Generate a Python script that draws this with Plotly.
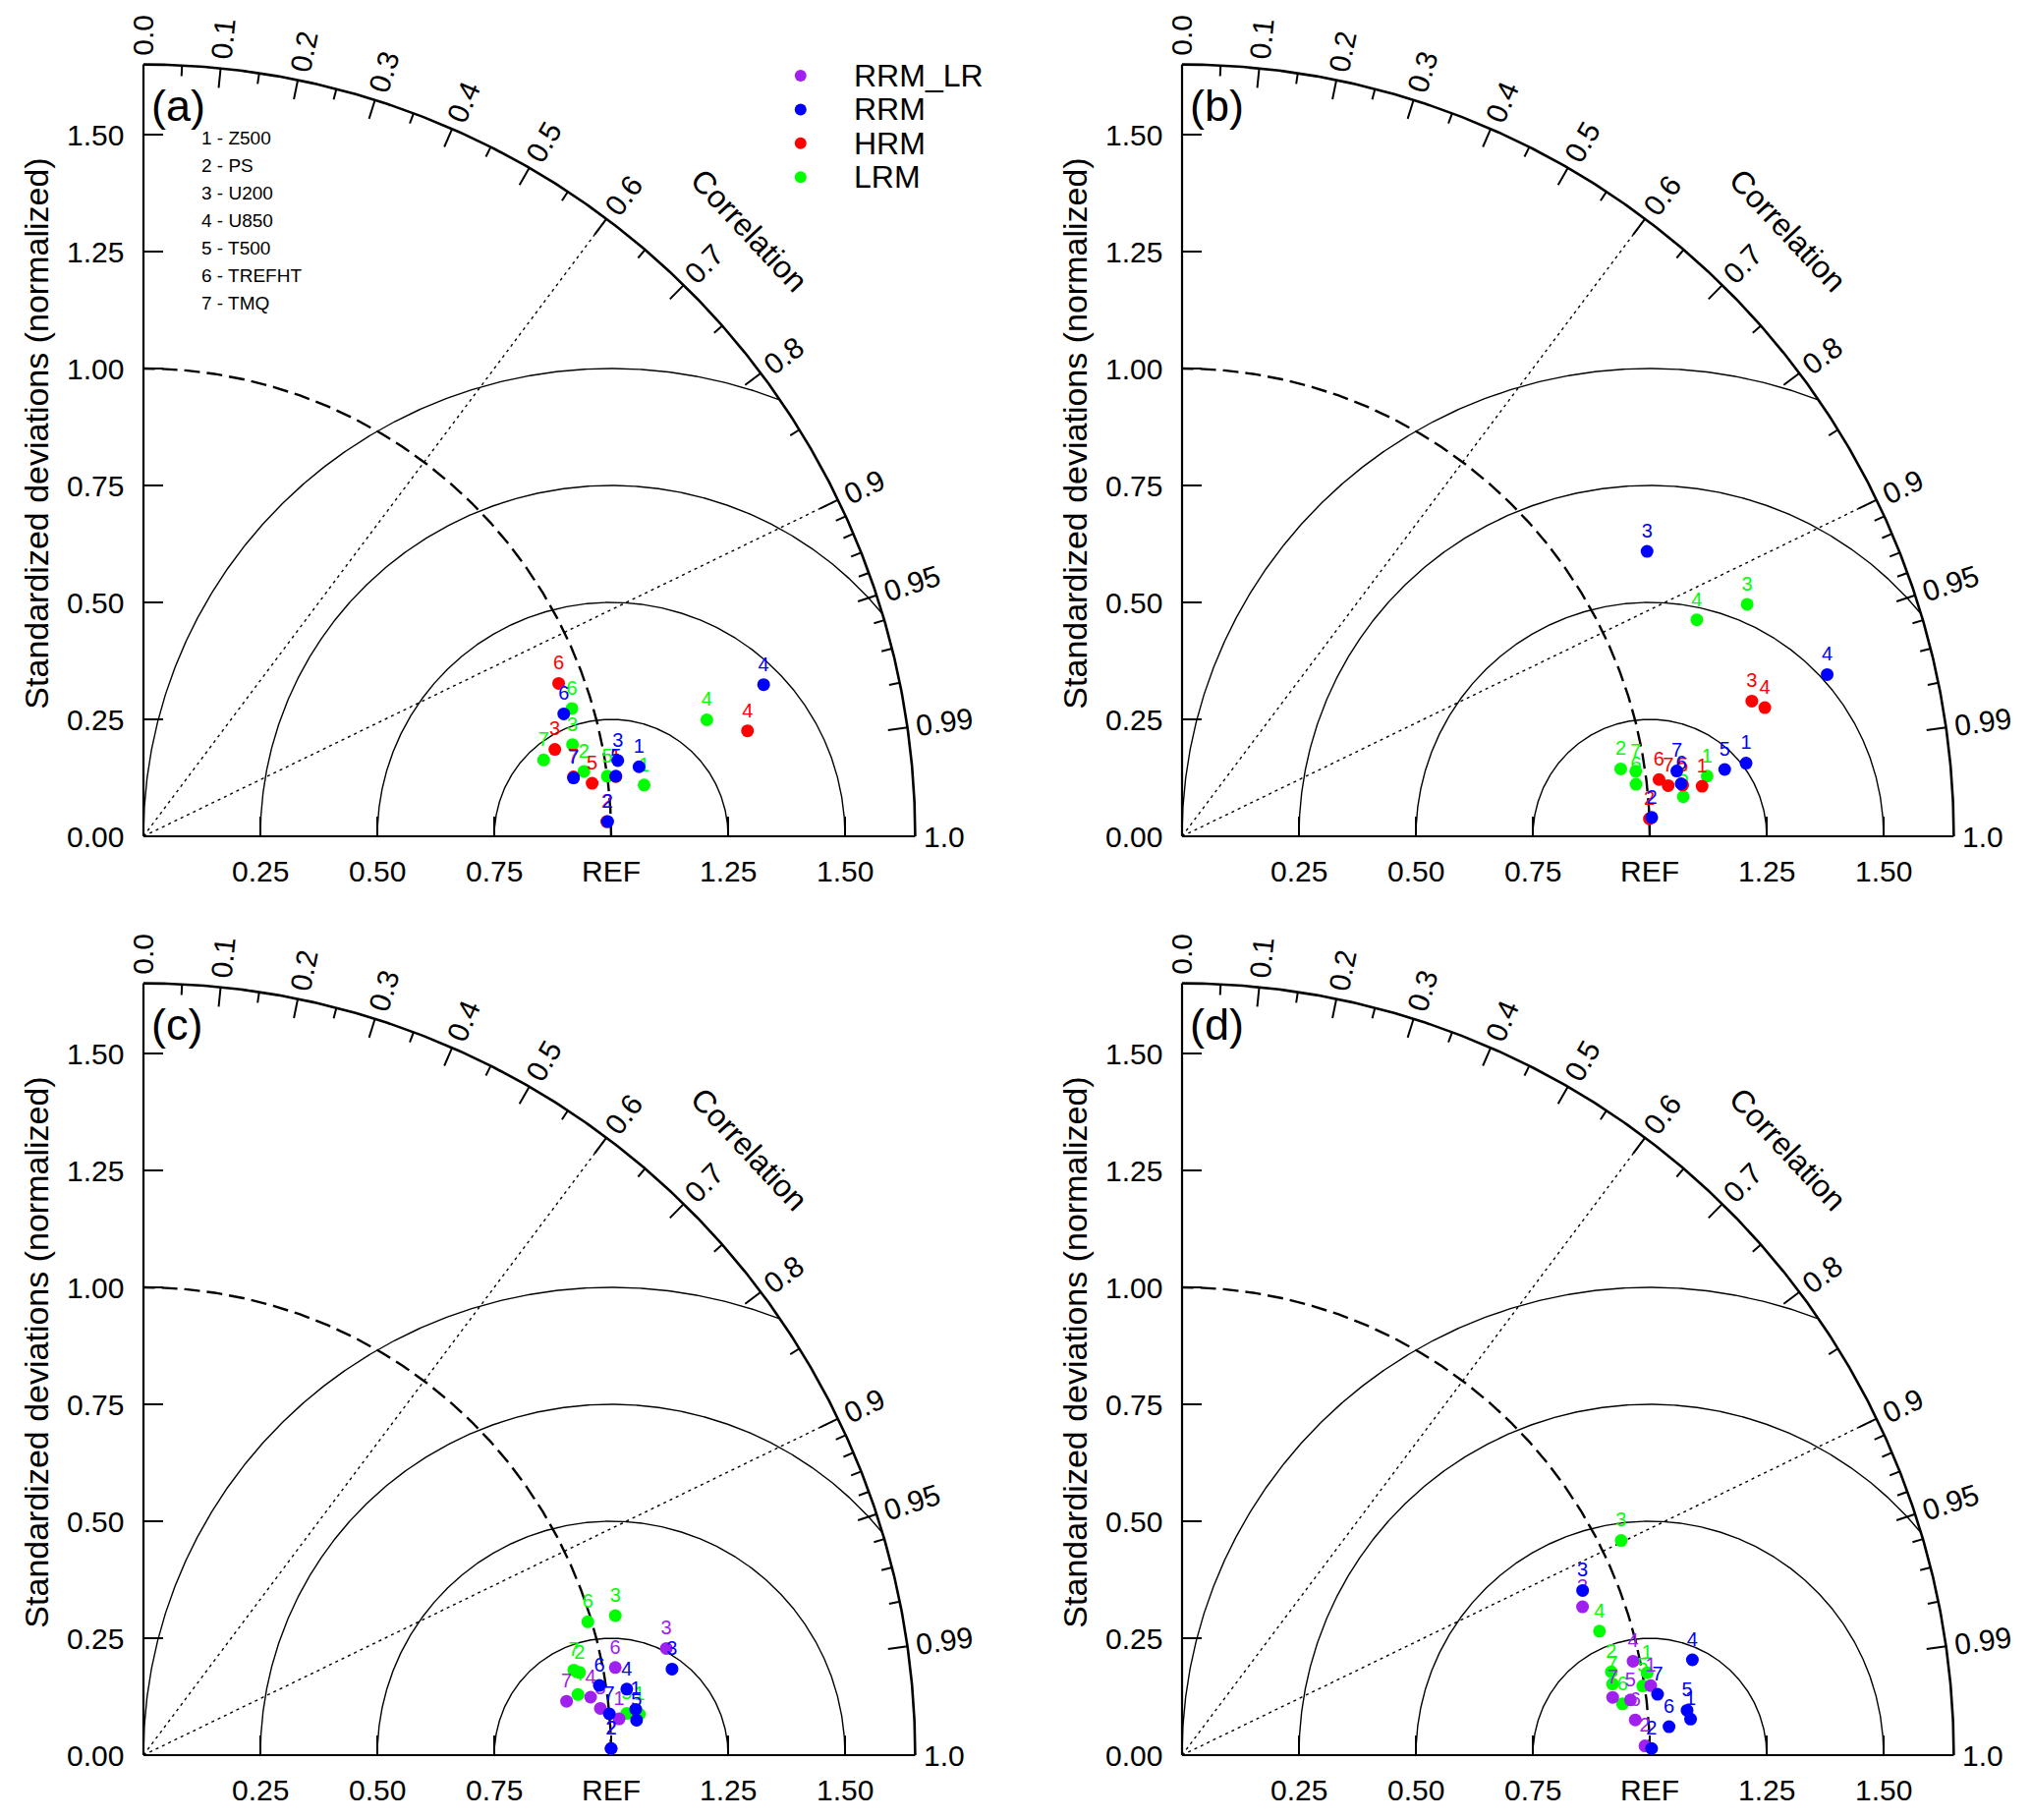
import numpy as np
import plotly.graph_objects as go

# ---- data: normalized standard deviation and correlation, variables 1..7 ----
variables = ["Z500", "PS", "U200", "U850", "T500", "TREFHT", "TMQ"]
panel_names = ["(a)", "(b)", "(c)", "(d)"]
models = ["RRM_LR", "RRM", "HRM", "LRM"]
colors = {"RRM_LR": "#A020F0", "RRM": "#0000FF", "HRM": "#FF0000", "LRM": "#00FF00"}

a_rrm_std = [1.070, 0.993, 1.027, 1.365, 1.018, 0.936, 0.928]
a_rrm_cor = [0.9903, 0.9995, 0.9875, 0.9714, 0.9920, 0.9601, 0.9909]
a_hrm_std = [1.018, 0.991, 0.899, 1.311, 0.966, 0.946, 0.928]
a_hrm_cor = [0.9921, 0.9995, 0.9784, 0.9851, 0.9931, 0.9384, 0.9906]
a_lrm_std = [1.076, 0.952, 0.938, 1.230, 1.000, 0.956, 0.871]
a_lrm_cor = [0.9948, 0.9893, 0.9779, 0.9793, 0.9917, 0.9583, 0.9823]

b_rrm_std = [1.216, 1.005, 1.166, 1.422, 1.169, 1.073, 1.067]
b_rrm_cor = [0.9917, 0.9992, 0.8527, 0.9700, 0.9925, 0.9945, 0.9914]
b_hrm_std = [1.117, 1.000, 1.252, 1.276, 1.076, 1.027, 1.045]
b_hrm_cor = [0.9954, 0.9993, 0.9730, 0.9765, 0.9948, 0.9930, 0.9946]
b_lrm_std = [1.130, 0.949, 1.306, 1.194, 1.075, 0.977, 0.980]
b_lrm_cor = [0.9935, 0.9884, 0.9251, 0.9218, 0.9969, 0.9935, 0.9899]

c_rrmlr_std = [1.020, 1.000, 1.141, 0.964, 0.982, 1.026, 0.912]
c_rrmlr_cor = [0.9971, 0.9999, 0.9798, 0.9917, 0.9948, 0.9832, 0.9920]
c_rrm_std = [1.057, 1.000, 1.145, 1.043, 1.057, 0.986, 1.000]
c_rrm_cor = [0.9957, 0.9999, 0.9870, 0.9908, 0.9975, 0.9885, 0.9961]
c_lrm_std = [1.064, 0.949, 1.052, 0.938, 1.037, 0.992, 0.938]
c_lrm_cor = [0.9966, 0.9825, 0.9590, 0.9904, 0.9963, 0.9578, 0.9810]

d_rrmlr_std = [1.013, 0.990, 0.913, 0.985, 0.966, 0.972, 0.929]
d_rrmlr_cor = [0.9892, 0.9998, 0.9378, 0.9790, 0.9925, 0.9970, 0.9911]
d_rrm_std = [1.090, 1.004, 0.926, 1.110, 1.084, 1.043, 1.025]
d_rrm_cor = [0.9975, 0.9999, 0.9249, 0.9830, 0.9961, 0.9983, 0.9919]
d_lrm_std = [1.010, 0.935, 1.045, 0.931, 0.996, 0.948, 0.933]
d_lrm_cor = [0.9847, 0.9817, 0.8984, 0.9586, 0.9889, 0.9933, 0.9866]

panel_data = [
    {"LRM": (a_lrm_std, a_lrm_cor), "HRM": (a_hrm_std, a_hrm_cor), "RRM": (a_rrm_std, a_rrm_cor)},
    {"LRM": (b_lrm_std, b_lrm_cor), "HRM": (b_hrm_std, b_hrm_cor), "RRM": (b_rrm_std, b_rrm_cor)},
    {"LRM": (c_lrm_std, c_lrm_cor), "RRM_LR": (c_rrmlr_std, c_rrmlr_cor), "RRM": (c_rrm_std, c_rrm_cor)},
    {"LRM": (d_lrm_std, d_lrm_cor), "RRM_LR": (d_rrmlr_std, d_rrmlr_cor), "RRM": (d_rrm_std, d_rrm_cor)},
]
draw_order = ["LRM", "HRM", "RRM_LR", "RRM"]

sd_ticks = [0.25, 0.50, 0.75, 1.00, 1.25, 1.50]
sd_labels = ["0.25", "0.50", "0.75", "REF", "1.25", "1.50"]
y_ticks = [0.0, 0.25, 0.50, 0.75, 1.00, 1.25, 1.50]
cor_major = [0.0, 0.1, 0.2, 0.3, 0.4, 0.5, 0.6, 0.7, 0.8, 0.9, 0.95, 0.99, 1.0]
cor_minor = [0.05, 0.15, 0.25, 0.35, 0.45, 0.55, 0.65, 0.75, 0.85,
             0.91, 0.92, 0.93, 0.94, 0.96, 0.97, 0.98]
rms_radii = [0.25, 0.5, 0.75, 1.0]

# ---- layout geometry (page body has an 8px margin) ----
W, H = 2051, 1836
PX = 476.0          # pixels per unit
RMAX = 1.65
FONT = "Liberation Sans, Arial, sans-serif"
ox = [138, 1195]    # origin x of left / right column (figure px)
oy = [843, 1778]    # origin y of top / bottom row (figure px)
LEFT, RIGHT, TOP, BOT = 138, 854, 843, 58
xr = [-LEFT / PX, RIGHT / PX]
yr = [-BOT / PX, TOP / PX]
xdoms, ydoms = [], []
for row in range(2):
    for col in range(2):
        xdoms.append([(ox[col] - LEFT) / W, (ox[col] + RIGHT) / W])
        ydoms.append([1 - (oy[row] + BOT) / H, 1 - (oy[row] - TOP) / H])

fig = go.Figure()
annotations = []


def line(xs, ys, ax, width=1.3, dash="solid", color="black"):
    fig.add_trace(go.Scatter(x=xs, y=ys, mode="lines", xaxis=ax[0], yaxis=ax[1],
                             line=dict(color=color, width=width, dash=dash),
                             hoverinfo="skip", showlegend=False))


def segs(pairs):
    xs, ys = [], []
    for (x0, y0, x1, y1) in pairs:
        xs += [x0, x1, None]
        ys += [y0, y1, None]
    return xs, ys


for p in range(4):
    ax = ("x" if p == 0 else f"x{p+1}", "y" if p == 0 else f"y{p+1}")
    xref, yref = ax

    # RMS arcs centred on REF
    phi = np.linspace(0, np.pi, 721)
    for rr in rms_radii:
        xs = 1 + rr * np.cos(phi)
        ys = rr * np.sin(phi)
        keep = np.hypot(xs, ys) <= RMAX + 1e-9
        line(xs[keep], ys[keep], ax, width=1.4)

    # dashed reference std arc
    th = np.linspace(0, np.pi / 2, 300)
    line(np.cos(th), np.sin(th), ax, width=2.4, dash="16px,7px")

    # dotted correlation lines
    for c in [0.6, 0.9]:
        t = np.arccos(c)
        line([0, RMAX * np.cos(t)], [0, RMAX * np.sin(t)], ax, width=1.4, dash="3px,4px")

    # outer arc and axes
    line(RMAX * np.cos(th), RMAX * np.sin(th), ax, width=2.6)
    line([0, RMAX], [0, 0], ax, width=2.2)
    line([0, 0], [0, RMAX], ax, width=2.2)

    # correlation ticks
    big, small = 20 / PX, 11 / PX
    pairs = []
    for c in cor_major[1:-1]:
        t = np.arccos(c)
        pairs.append((RMAX * np.cos(t), RMAX * np.sin(t),
                      (RMAX - big) * np.cos(t), (RMAX - big) * np.sin(t)))
    for c in cor_minor:
        t = np.arccos(c)
        pairs.append((RMAX * np.cos(t), RMAX * np.sin(t),
                      (RMAX - small) * np.cos(t), (RMAX - small) * np.sin(t)))
    for v in sd_ticks:
        pairs.append((v, 0, v, big))
        pairs.append((0, v, big, v))
    xs, ys = segs(pairs)
    line(xs, ys, ax, width=2)

    # correlation labels
    for c in cor_major:
        s = f"{c:.2f}".rstrip("0") if c not in (0.0, 1.0) else f"{c:.1f}"
        w = sum(0.278 if ch == "." else 0.556 for ch in s) * 30
        t = np.arccos(c)
        rl = RMAX + (9 + w / 2) / PX
        annotations.append(dict(x=rl * np.cos(t), y=rl * np.sin(t), xref=xref, yref=yref,
                                text=s, showarrow=False, textangle=-np.degrees(t),
                                xanchor="center", yanchor="middle",
                                font=dict(size=30, family=FONT, color="black")))
    annotations.append(dict(x=1.296, y=1.294, xref=xref, yref=yref, text="Correlation",
                            showarrow=False, textangle=47,
                            font=dict(size=32, family=FONT, color="black")))

    # std labels
    for v, s in zip(sd_ticks, sd_labels):
        annotations.append(dict(x=v, y=-35 / PX, xref=xref, yref=yref, text=s,
                                showarrow=False, yanchor="middle",
                                font=dict(size=30, family=FONT, color="black")))
    for v in y_ticks:
        annotations.append(dict(x=-18 / PX, y=v, xref=xref, yref=yref, text=f"{v:.2f}",
                                showarrow=False, xanchor="right", yanchor="middle",
                                font=dict(size=30, family=FONT, color="black")))
    annotations.append(dict(x=-109 / PX, y=0.86, xref=xref, yref=yref,
                            text="Standardized deviations (normalized)", showarrow=False,
                            textangle=-90, font=dict(size=34, family=FONT, color="black")))
    annotations.append(dict(x=6 / PX, y=1.563, xref=xref, yref=yref, text=panel_names[p],
                            showarrow=False, xanchor="left", yanchor="middle",
                            font=dict(size=45, family=FONT, color="black")))

    # model points
    for m in draw_order:
        if m not in panel_data[p]:
            continue
        sd, cr = panel_data[p][m]
        sd = np.array(sd)
        cr = np.array(cr)
        t = np.arccos(cr)
        fig.add_trace(go.Scatter(
            x=sd * np.cos(t), y=sd * np.sin(t), mode="markers+text", xaxis=xref, yaxis=yref,
            text=[str(i + 1) for i in range(len(sd))], textposition="top center",
            textfont=dict(size=20, family=FONT, color=colors[m]),
            marker=dict(size=13, color=colors[m]), name=m, showlegend=False,
            cliponaxis=False))

# variable key and model legend in panel (a)
for i, v in enumerate(variables):
    annotations.append(dict(x=57 / PX, y=1.492 - i * 28 / PX, xref="x", yref="y",
                            text=f"{i + 1} - {v}", showarrow=False, xanchor="left",
                            yanchor="middle", font=dict(size=19, family=FONT, color="black")))
leg_x, leg_y, leg_dy = 1.405, 1.626, 34.4 / PX
fig.add_trace(go.Scatter(
    x=[leg_x] * len(models), y=[leg_y - i * leg_dy for i in range(len(models))],
    mode="markers", xaxis="x", yaxis="y", hoverinfo="skip", showlegend=False,
    marker=dict(size=12, color=[colors[m] for m in models]), cliponaxis=False))
for i, m in enumerate(models):
    annotations.append(dict(x=leg_x + 52 / PX, y=leg_y - i * leg_dy, xref="x", yref="y",
                            text=m, showarrow=False, xanchor="left", yanchor="middle",
                            font=dict(size=32, family=FONT, color="black")))

layout = dict(width=W, height=H, margin=dict(l=0, r=0, t=0, b=0),
              plot_bgcolor="white", paper_bgcolor="white", showlegend=False,
              annotations=annotations)
for p in range(4):
    sx = "" if p == 0 else str(p + 1)
    layout[f"xaxis{sx}"] = dict(domain=xdoms[p], range=xr, visible=False, fixedrange=True,
                                anchor=f"y{sx}")
    layout[f"yaxis{sx}"] = dict(domain=ydoms[p], range=yr, visible=False, fixedrange=True,
                                anchor=f"x{sx}")
fig.update_layout(**layout)

fig.write_html("out.html")
